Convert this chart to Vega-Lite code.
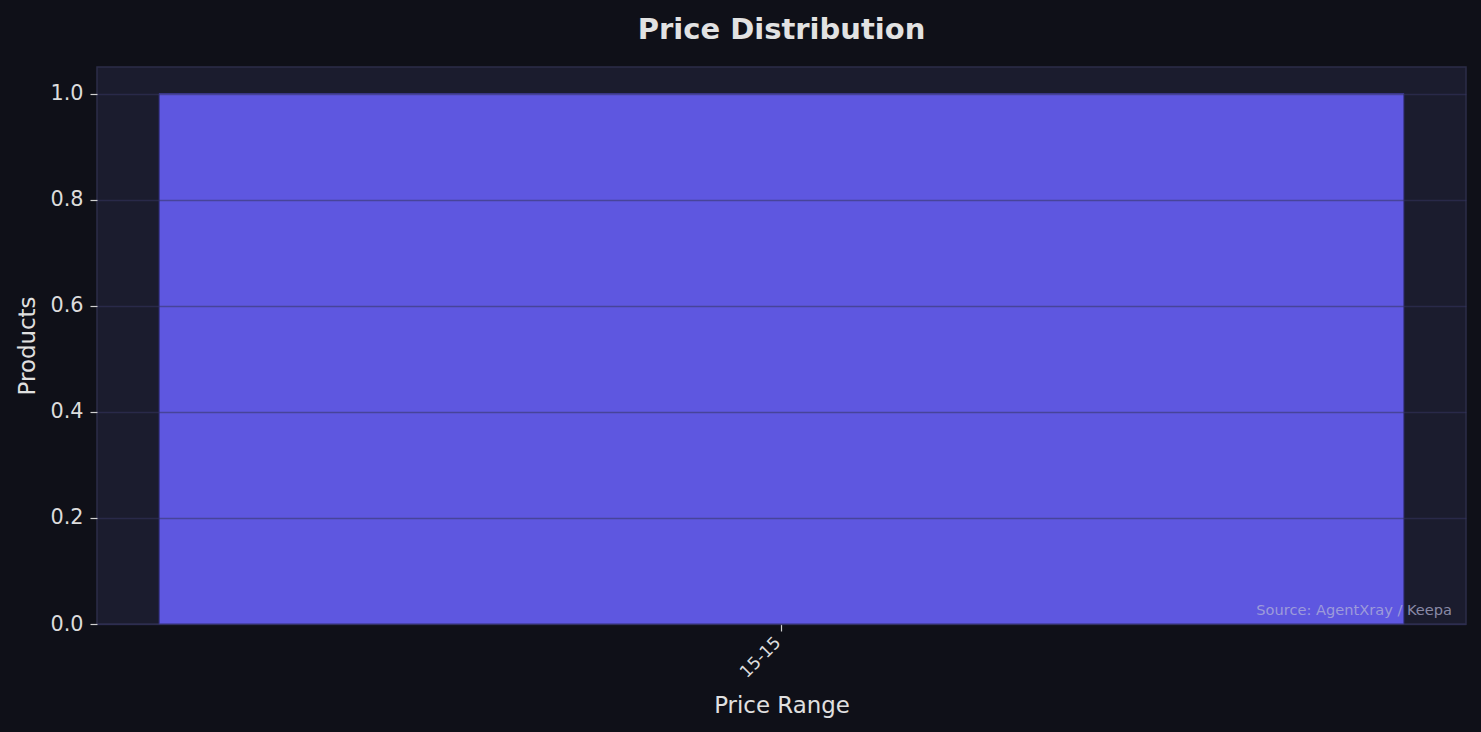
{
  "$schema": "https://vega.github.io/schema/vega-lite/v6.json",
  "width": 1481,
  "height": 732,
  "autosize": {"type": "fit", "contains": "padding"},
  "padding": {"left": 16, "top": 16, "right": 15, "bottom": 14},
  "background": "#0f1018",
  "title": {
    "text": "Price Distribution",
    "font": "DejaVu Sans",
    "fontSize": 29,
    "fontWeight": "bold",
    "color": "#e2e2e2",
    "offset": 22,
    "anchor": "middle"
  },
  "data": {
    "values": [
      {"range": "15-15", "products": 1}
    ]
  },
  "layer": [
    {
      "mark": {"type": "bar", "color": "#5e57e0", "stroke": "#3b3790", "strokeWidth": 1},
      "encoding": {
        "x": {
          "field": "range",
          "type": "nominal",
          "title": "Price Range",
          "scale": {"paddingInner": 0, "paddingOuter": 0.05},
          "axis": {"labelAngle": -45, "labelFontSize": 17, "labelAlign": "right", "labelBaseline": "top", "labelPadding": 3, "labelOffset": -9, "titlePadding": 14}
        },
        "y": {
          "field": "products",
          "type": "quantitative",
          "title": "Products",
          "scale": {"domain": [0, 1.05], "nice": false},
          "axis": {
            "values": [0, 0.2, 0.4, 0.6, 0.8, 1.0],
            "format": ".1f",
            "grid": true,
            "zindex": 1,
            "titlePadding": 10
          }
        }
      }
    },
    {
      "mark": {"type": "text", "text": "Source: AgentXray / Keepa", "align": "right", "baseline": "bottom", "font": "DejaVu Sans", "fontSize": 14.6, "color": "#b8b8d8", "opacity": 0.7, "dx": -14, "dy": -6},
      "encoding": {
        "x": {"datum": 1, "type": "quantitative", "scale": {"domain": [0, 1]}, "axis": null},
        "y": {"datum": 0, "type": "quantitative"}
      }
    }
  ],
  "resolve": {"scale": {"x": "independent"}},
  "config": {
    "font": "DejaVu Sans",
    "view": {"fill": "#1b1c2e", "stroke": "#2c2d48", "strokeWidth": 1.5},
    "axis": {
      "domain": false,
      "grid": false,
      "gridColor": "#343560",
      "gridOpacity": 0.55,
      "gridWidth": 1.5,
      "tickColor": "#d0d0d0",
      "tickSize": 7,
      "tickWidth": 1.2,
      "labelColor": "#dcdcdc",
      "labelFontSize": 20.8,
      "labelPadding": 7,
      "titleColor": "#e0e0e0",
      "titleFontSize": 22.9,
      "titleFontWeight": "normal"
    }
  }
}
